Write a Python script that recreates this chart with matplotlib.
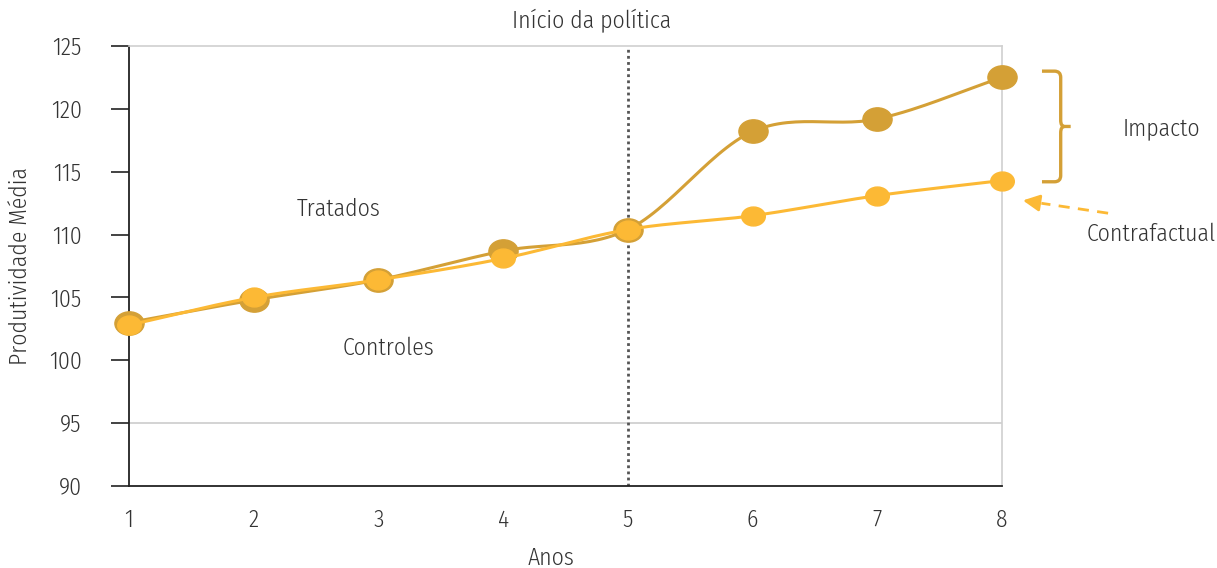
import numpy as np
import matplotlib
matplotlib.use("Agg")
import matplotlib.pyplot as plt
import matplotlib.font_manager as fm
from matplotlib.path import Path
from matplotlib.patches import PathPatch

# pick a light, condensed sans-serif face among those installed
_cands = ['Open Sans Condensed Light', 'Open Sans Condensed', 'Fira Sans Condensed',
          'Asap Condensed', 'Sofia Sans Condensed', 'Roboto Condensed', 'Saira SemiCondensed']
_have = {}
for f in fm.fontManager.ttflist:
    try:
        w = int(f.weight)
    except (TypeError, ValueError):
        w = 400
    if f.style == 'normal':
        _have.setdefault(f.name, set()).add(w)
FAMILY, WEIGHT = 'Liberation Sans', 400
for c in _cands:
    ws = [w for w in _have.get(c, ()) if 250 <= w <= 400]
    if ws:
        FAMILY = c
        WEIGHT = 300 if 300 in ws else min(ws, key=lambda w: abs(w - 300))
        break
plt.rcParams['font.family'] = [FAMILY, 'DejaVu Sans']
plt.rcParams['font.weight'] = WEIGHT
plt.rcParams['axes.labelweight'] = WEIGHT

# Data
anos = [1, 2, 3, 4, 5, 6, 7, 8]
tratados = [103.0, 104.8, 106.4, 108.7, 110.4, 118.2, 119.2, 122.5]
controles = [102.8, 105.0, 106.4, 108.1, 110.4, 111.5, 113.1, 114.3]
y_ticks = [90, 95, 100, 105, 110, 115, 120, 125]
inicio_politica = 5

COR_TRAT = '#D4A036'
COR_CTRL = '#FCB935'
TXT = '#333333'
FS = 17


def smooth(xs, ys, n=30):
    """Catmull-Rom curve through the given points (Excel-style smoothed line)."""
    P = np.column_stack([xs, ys]).astype(float)
    P = np.vstack([2 * P[0] - P[1], P, 2 * P[-1] - P[-2]])
    out = []
    t = np.linspace(0, 1, n)[:, None]
    for i in range(1, len(P) - 2):
        p0, p1, p2, p3 = P[i - 1], P[i], P[i + 1], P[i + 2]
        seg = 0.5 * ((2 * p1) + (-p0 + p2) * t + (2 * p0 - 5 * p1 + 4 * p2 - p3) * t ** 2
                     + (-p0 + 3 * p1 - 3 * p2 + p3) * t ** 3)
        out.append(seg if i == 1 else seg[1:])
    out = np.vstack(out)
    return out[:, 0], out[:, 1]


# slightly flattened circle marker
circ = Path.unit_circle()
oval = Path(circ.vertices * np.array([1.0, 0.8]), circ.codes)

fig = plt.figure(figsize=(12.17, 5.68), dpi=100)
ax = fig.add_axes([0.106, 0.1444, 0.7174, 0.7746])

ax.set_xlim(1, 8)
ax.set_ylim(90, 125)

# light grid line and frame
ax.axhline(95, color='#cccccc', lw=1.2, zorder=1)
for s in ['top', 'right']:
    ax.spines[s].set_color('#d0d0d0')
    ax.spines[s].set_linewidth(1.2)
for s in ['left', 'bottom']:
    ax.spines[s].set_color('#222222')
    ax.spines[s].set_linewidth(1.3)

# policy start line
ax.axvline(inicio_politica, color='#555555', ls=(0, (1, 1.2)), lw=2, zorder=2)

# series
xs, ys = smooth(anos, tratados)
ax.plot(xs, ys, color=COR_TRAT, lw=2.2, zorder=3, clip_on=False)
ax.plot(anos, tratados, ls='none', marker=oval, ms=21, color=COR_TRAT, zorder=4, clip_on=False)
xs, ys = smooth(anos, controles)
ax.plot(xs, ys, color=COR_CTRL, lw=2.2, zorder=5, clip_on=False)
ax.plot(anos, controles, ls='none', marker=oval, ms=17, color=COR_CTRL, zorder=6, clip_on=False)

# ticks
ax.set_yticks(y_ticks)
ax.set_xticks(anos)
ax.tick_params(axis='y', length=13, width=1.2, color='#222222', pad=21, labelsize=FS, labelcolor=TXT)
ax.tick_params(axis='x', length=0, pad=16, labelsize=FS, labelcolor=TXT)

ax.set_xlabel('Anos', fontsize=FS, color=TXT, va='center', fontweight=WEIGHT)
ax.xaxis.set_label_coords(0.4834, -0.1636)
ax.set_ylabel('Produtividade Média', fontsize=FS, color=TXT, va='center', fontweight=WEIGHT)
ax.yaxis.set_label_coords(-0.1249, 0.5)

# annotations
ax.text(4.71, 127.05, 'Início da política', fontsize=FS, color=TXT, ha='center', va='center', clip_on=False)
ax.text(2.684, 112.0, 'Tratados', fontsize=FS, color=TXT, ha='center', va='center')
ax.text(3.077, 101.0, 'Controles', fontsize=FS, color=TXT, ha='center', va='center')
ax.text(9.28, 118.4, 'Impacto', fontsize=FS, color=TXT, ha='center', va='center', clip_on=False)
ax.text(9.195, 110.0, 'Contrafactual', fontsize=FS, color=TXT, ha='center', va='center', clip_on=False)

# bracket spanning the impact at the last year
top = tratados[-1] + 0.5
bot = controles[-1] - 0.1
mid = (top + bot) / 2
x0, x1, x2 = 8.32, 8.47, 8.55
r = 0.5
verts = [(x0, top), (x1 - 0.05, top), (x1, top), (x1, top - r),
         (x1, mid + r), (x1, mid), (x1 + 0.03, mid), (x2, mid),
         (x1 + 0.03, mid), (x1, mid), (x1, mid - r),
         (x1, bot + r), (x1, bot), (x1 - 0.05, bot), (x0, bot)]
codes = [Path.MOVETO, Path.LINETO, Path.CURVE3, Path.CURVE3,
         Path.LINETO, Path.CURVE3, Path.CURVE3, Path.LINETO,
         Path.MOVETO, Path.CURVE3, Path.CURVE3,
         Path.LINETO, Path.CURVE3, Path.CURVE3, Path.LINETO]
ax.add_patch(PathPatch(Path(verts, codes), fill=False, ec=COR_TRAT, lw=2.4,
                       clip_on=False, capstyle='butt', joinstyle='round'))

# dashed arrow pointing at the counterfactual
tail = (8.85, 111.7)
tip = (8.145, 112.75)
base = (tip[0] + 0.17, tip[1] - 0.26)
ax.plot([tail[0], base[0]], [tail[1], base[1]], color=COR_CTRL, lw=2, ls=(0, (4, 3)), clip_on=False)
ax.annotate('', xy=tip, xytext=base,
            arrowprops=dict(arrowstyle='-|>,head_length=1.0,head_width=0.5', color=COR_CTRL, lw=2),
            annotation_clip=False)

fig.savefig('out.png', dpi=100)
